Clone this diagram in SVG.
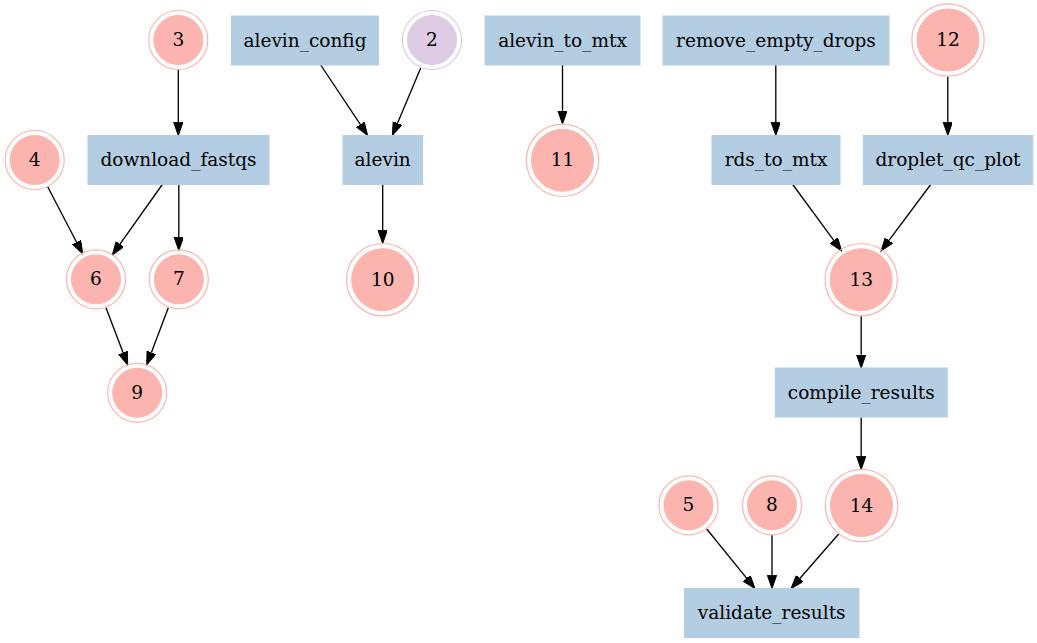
<svg xmlns="http://www.w3.org/2000/svg" width="1037" height="643" viewBox="0 0 1037 643">
<style>
  text { font-family: "DejaVu Serif", "Liberation Serif", serif; font-size: 18.5px; fill: #000; text-anchor: middle; }
  .box { fill: #b3cde3; stroke: #b3cde3; stroke-width: 1; }
  .ring { fill: none; stroke: #fbb4ae; stroke-width: 1.2; }
  .core { fill: #fbb4ae; stroke: #fbb4ae; stroke-width: 1; }
  .ringp { fill: none; stroke: #decbe4; stroke-width: 1.2; }
  .corep { fill: #decbe4; stroke: #decbe4; stroke-width: 1; }
  .edge { stroke: #000; stroke-width: 1.33; fill: none; marker-end: url(#arrow); }
</style>
<defs>
  <marker id="arrow" markerUnits="userSpaceOnUse" markerWidth="14" markerHeight="10" refX="0" refY="4.67" orient="auto">
    <path d="M0,0 L13.3,4.67 L0,9.33 z" fill="#000" stroke="#000" stroke-width="1"/>
  </marker>
</defs>
<rect width="1037" height="643" fill="#fff"/>

<g id="edges">
  <line class="edge" x1="178.3" y1="70" x2="178.3" y2="122.2"/>
  <line class="edge" x1="320.7" y1="65" x2="360.3" y2="124.4"/>
  <line class="edge" x1="420.7" y1="68" x2="397.5" y2="123.2"/>
  <line class="edge" x1="382.7" y1="184.5" x2="382.7" y2="230.2"/>
  <line class="edge" x1="562.5" y1="65" x2="562.5" y2="110.7"/>
  <line class="edge" x1="775.8" y1="65" x2="775.8" y2="122.2"/>
  <line class="edge" x1="947.8" y1="76.5" x2="947.8" y2="122.2"/>
  <line class="edge" x1="47.7" y1="186.7" x2="76.6" y2="242.2"/>
  <line class="edge" x1="162.3" y1="184.5" x2="120" y2="244.1"/>
  <line class="edge" x1="178.8" y1="184.5" x2="178.8" y2="237.2"/>
  <line class="edge" x1="106" y1="307.7" x2="123" y2="352.6"/>
  <line class="edge" x1="168.3" y1="307.7" x2="151.4" y2="352.5"/>
  <line class="edge" x1="792.7" y1="184.5" x2="833.8" y2="240.3"/>
  <line class="edge" x1="930.7" y1="184.5" x2="889" y2="240.4"/>
  <line class="edge" x1="861.2" y1="316" x2="861.2" y2="354.7"/>
  <line class="edge" x1="861.2" y1="417.5" x2="861.2" y2="456.2"/>
  <line class="edge" x1="706.7" y1="529" x2="746.6" y2="578.2"/>
  <line class="edge" x1="772" y1="535" x2="772" y2="575.2"/>
  <line class="edge" x1="838.7" y1="534" x2="799.8" y2="578.5"/>
</g>

<g id="n3"><circle class="ring" cx="178.3" cy="40" r="29.5"/><circle class="core" cx="178.3" cy="40" r="24.5"/><text x="178.3" y="46">3</text></g>
<g id="alevin_config"><rect class="box" x="231.5" y="16" width="147" height="49"/><text x="305" y="46.5">alevin_config</text></g>
<g id="n2"><circle class="ringp" cx="432" cy="40" r="29.5"/><circle class="corep" cx="432" cy="40" r="24.5"/><text x="432" y="46">2</text></g>
<g id="alevin_to_mtx"><rect class="box" x="485" y="16" width="155" height="49"/><text x="562.5" y="46.5">alevin_to_mtx</text></g>
<g id="remove_empty_drops"><rect class="box" x="663" y="16" width="226" height="49"/><text x="776" y="46.5">remove_empty_drops</text></g>
<g id="n12"><circle class="ring" cx="948" cy="40" r="36.2"/><circle class="core" cx="948" cy="40" r="31"/><text x="948" y="46">12</text></g>

<g id="n4"><circle class="ring" cx="34.7" cy="160" r="29.5"/><circle class="core" cx="34.7" cy="160" r="24.5"/><text x="34.7" y="166">4</text></g>
<g id="download_fastqs"><rect class="box" x="88" y="135.5" width="181" height="49"/><text x="178.5" y="166">download_fastqs</text></g>
<g id="alevin"><rect class="box" x="343" y="135.5" width="79.5" height="49"/><text x="382.7" y="166">alevin</text></g>
<g id="n11"><circle class="ring" cx="562.5" cy="160.3" r="36.2"/><circle class="core" cx="562.5" cy="160.3" r="31"/><text x="562.5" y="166.3">11</text></g>
<g id="rds_to_mtx"><rect class="box" x="712" y="135.5" width="128" height="49"/><text x="776" y="166">rds_to_mtx</text></g>
<g id="droplet_qc_plot"><rect class="box" x="863.3" y="135.5" width="169.5" height="49"/><text x="948" y="166">droplet_qc_plot</text></g>

<g id="n6"><circle class="ring" cx="96" cy="279.3" r="29.5"/><circle class="core" cx="96" cy="279.3" r="24.5"/><text x="96" y="285.3">6</text></g>
<g id="n7"><circle class="ring" cx="178.8" cy="279.3" r="29.5"/><circle class="core" cx="178.8" cy="279.3" r="24.5"/><text x="178.8" y="285.3">7</text></g>
<g id="n10"><circle class="ring" cx="382.7" cy="279.7" r="36.2"/><circle class="core" cx="382.7" cy="279.7" r="31"/><text x="382.7" y="285.7">10</text></g>
<g id="n13"><circle class="ring" cx="861.2" cy="279.7" r="36.2"/><circle class="core" cx="861.2" cy="279.7" r="31"/><text x="861.2" y="285.7">13</text></g>

<g id="n9"><circle class="ring" cx="137.2" cy="392.8" r="29.5"/><circle class="core" cx="137.2" cy="392.8" r="24.5"/><text x="137.2" y="398.8">9</text></g>
<g id="compile_results"><rect class="box" x="775.3" y="368" width="172" height="49"/><text x="861.3" y="398.5">compile_results</text></g>

<g id="n5"><circle class="ring" cx="688.5" cy="505.3" r="29.5"/><circle class="core" cx="688.5" cy="505.3" r="24.5"/><text x="688.5" y="511.3">5</text></g>
<g id="n8"><circle class="ring" cx="772" cy="505.3" r="29.5"/><circle class="core" cx="772" cy="505.3" r="24.5"/><text x="772" y="511.3">8</text></g>
<g id="n14"><circle class="ring" cx="861.5" cy="505.5" r="36.2"/><circle class="core" cx="861.5" cy="505.5" r="31"/><text x="861.5" y="511.5">14</text></g>
<g id="validate_results"><rect class="box" x="684.5" y="588.5" width="174.5" height="49"/><text x="771.7" y="619">validate_results</text></g>
</svg>
